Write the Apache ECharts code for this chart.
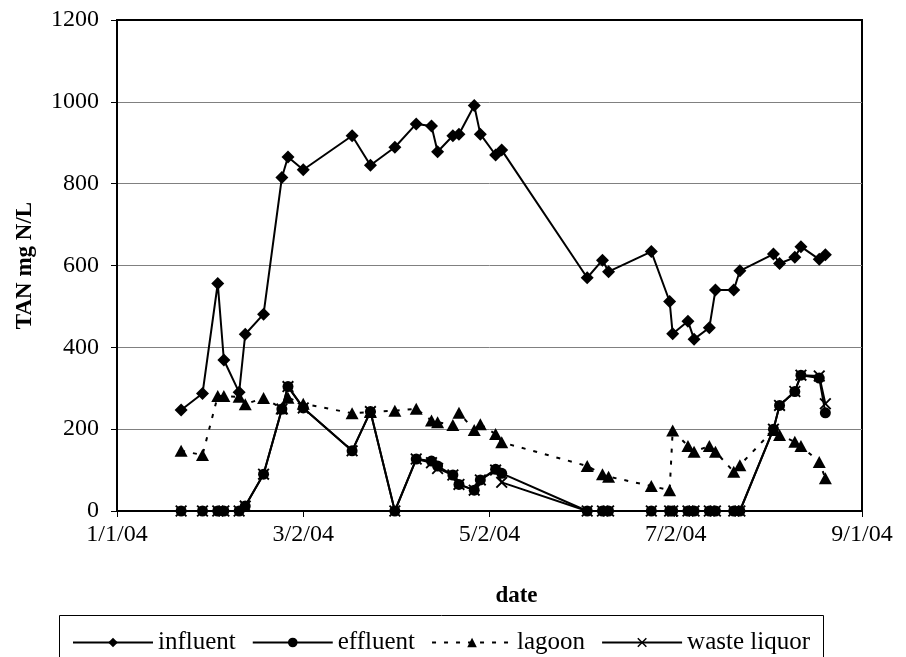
<!DOCTYPE html>
<html>
<head>
<meta charset="utf-8">
<title>TAN mg N/L by date</title>
<script src="https://cdn.jsdelivr.net/npm/echarts@6/dist/echarts.min.js"></script>
<style>
  html, body { margin: 0; padding: 0; background: #fff; }
  #chart { width: 906px; height: 657px; }
</style>
</head>
<body>
<div id="chart"></div>
<script>
// Sampling dates (2004) and total ammonia nitrogen, mg N/L
const sampleDates = [
  '2004-01-22', '2004-01-29', '2004-02-03', '2004-02-05', '2004-02-10', '2004-02-12',
  '2004-02-18', '2004-02-24', '2004-02-26', '2004-03-02', '2004-03-18', '2004-03-24',
  '2004-04-01', '2004-04-08', '2004-04-13', '2004-04-15', '2004-04-20', '2004-04-22',
  '2004-04-27', '2004-04-29', '2004-05-04', '2004-05-06', '2004-06-03', '2004-06-08',
  '2004-06-10', '2004-06-24', '2004-06-30', '2004-07-01', '2004-07-06', '2004-07-08',
  '2004-07-13', '2004-07-15', '2004-07-21', '2004-07-23', '2004-08-03', '2004-08-05',
  '2004-08-10', '2004-08-12', '2004-08-18', '2004-08-20'
];

const influent = [
  247, 287, 556, 369, 290, 432,
  481, 815, 865, 834, 917, 845,
  889, 946, 941, 878, 917, 921,
  991, 921, 870, 882, 570, 613,
  585, 634, 512, 433, 464, 420,
  448, 540, 540, 587, 628, 605,
  620, 646, 615, 626
];

const effluent = [
  0, 0, 0, 0, 0, 12,
  90, 249, 304, 252, 147, 243,
  0, 127, 122, 110, 88, 65,
  51, 76, 102, 92, 0, 0,
  0, 0, 0, 0, 0, 0,
  0, 0, 0, 0, 200, 258,
  292, 332, 325, 240
];

const lagoon = [
  147, 137, 281, 281, 279, 261,
  276, 251, 277, 262, 239, 242,
  245, 250, 221, 217, 210, 240,
  198, 212, 188, 168, 110, 90,
  84, 61, 51, 197, 159, 145,
  159, 145, 96, 112, 198, 186,
  169, 159, 120, 80
];

const wasteLiquor = [
  0, 0, 0, 0, 0, 12,
  90, 249, 304, 252, 147, 243,
  0, 127, 118, 104, 88, 65,
  51, 76, 100, 70, 0, 0,
  0, 0, 0, 0, 0, 0,
  0, 0, 0, 0, 200, 258,
  292, 332, 330, 262
];

// Axis settings
const axisStart = '2004-01-01';
const axisEnd = '2004-09-01';
const tickStepDays = 61;
const yMin = 0, yMax = 1200, yStep = 200;

const DAY_MS = 86400000;
const t0 = Date.parse(axisStart + 'T00:00:00Z');
const dayOf = s => Math.round((Date.parse(s + 'T00:00:00Z') - t0) / DAY_MS);
const dateLabel = d => {
  const dt = new Date(t0 + Math.round(d) * DAY_MS);
  return (dt.getUTCMonth() + 1) + '/' + dt.getUTCDate() + '/' + String(dt.getUTCFullYear()).slice(2);
};
const points = vals => sampleDates.map((s, i) => [dayOf(s), vals[i]]);

const serif = '"Liberation Serif", "Times New Roman", serif';
const xMarker = 'path://M0,1.1L1.1,0L5,3.9L8.9,0L10,1.1L6.1,5L10,8.9L8.9,10L5,6.1L1.1,10L0,8.9L3.9,5Z';

function lineSeries(name, vals, symbol, size, lineType) {
  return {
    name: name,
    type: 'line',
    data: points(vals),
    symbol: symbol,
    symbolSize: size,
    showAllSymbol: true,
    lineStyle: { color: '#000', width: 2, type: lineType || 'solid' },
    itemStyle: { color: '#000', borderWidth: 0 },
    emphasis: { disabled: true }
  };
}

const chart = echarts.init(document.getElementById('chart'), null, { renderer: 'canvas' });
chart.setOption({
  animation: false,
  backgroundColor: '#fff',
  textStyle: { fontFamily: serif, color: '#000' },
  grid: {
    left: 117, right: 44, top: 20, bottom: 146,
    show: true, borderColor: '#000', borderWidth: 2, backgroundColor: 'transparent'
  },
  xAxis: {
    type: 'value',
    min: 0,
    max: dayOf(axisEnd),
    interval: tickStepDays,
    name: 'date',
    nameLocation: 'middle',
    nameGap: 74,
    nameTextStyle: { fontFamily: serif, fontWeight: 'bold', fontSize: 23, color: '#000', padding: [0, 0, 0, 54] },
    axisLine: { show: true, onZero: false, lineStyle: { color: '#000', width: 2 } },
    axisTick: { show: true, inside: false, length: 6, lineStyle: { color: '#000', width: 1 } },
    axisLabel: { margin: 12, fontFamily: serif, fontSize: 24, color: '#000', formatter: v => dateLabel(v) },
    splitLine: { show: false }
  },
  yAxis: {
    type: 'value',
    min: yMin,
    max: yMax,
    interval: yStep,
    name: 'TAN mg N/L',
    nameLocation: 'middle',
    nameGap: 80,
    nameTextStyle: { fontFamily: serif, fontWeight: 'bold', fontSize: 23, color: '#000' },
    axisLine: { show: true, lineStyle: { color: '#000', width: 2 } },
    axisTick: { show: true, inside: false, length: 6, lineStyle: { color: '#000', width: 1 } },
    axisLabel: { margin: 18, fontFamily: serif, fontSize: 24, color: '#000', formatter: v => String(v) },
    splitLine: { show: true, showMinLine: false, showMaxLine: false, lineStyle: { color: '#808080', width: 1 } }
  },
  legend: {
    left: 67,
    top: 625,
    itemWidth: 80,
    itemHeight: 12,
    itemGap: 16,
    selectedMode: false,
    textStyle: { fontFamily: serif, fontSize: 25, color: '#000' },
    data: ['influent', 'effluent', 'lagoon', 'waste liquor']
  },
  graphic: [{
    type: 'rect',
    left: 57,
    top: 613,
    shape: { width: 764, height: 70 },
    style: { fill: 'none', stroke: '#000', lineWidth: 1 },
    silent: true
  }],
  series: [
    lineSeries('influent', influent, 'diamond', 13),
    lineSeries('effluent', effluent, 'circle', 11),
    lineSeries('lagoon', lagoon, 'triangle', [13, 12], [4, 8]),
    lineSeries('waste liquor', wasteLiquor, xMarker, 12)
  ]
});
</script>
</body>
</html>
